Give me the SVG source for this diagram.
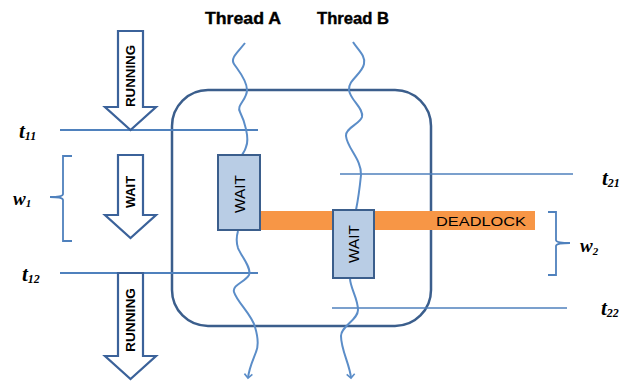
<svg xmlns="http://www.w3.org/2000/svg" width="638" height="381" viewBox="0 0 638 381">
<defs>
<style>
.lbl{font-family:"Liberation Sans",Arial,sans-serif;font-weight:bold;fill:#000}
.math{font-family:"Liberation Serif","Times New Roman",serif;font-weight:bold;font-style:italic;fill:#000}
.tline{stroke:#4F81BD;stroke-width:2;fill:none}
.thin{stroke:#4F81BD;stroke-width:1.3;fill:none}
.brace{stroke:#4F81BD;stroke-width:1.8;fill:none}
.arrow{fill:#fff;stroke:#3B629A;stroke-width:2.2}
.wave{stroke:#5B8DC8;stroke-width:2;fill:none}
.box{fill:#B9CDE5;stroke:#3B5E8C;stroke-width:2}
.vt{font-family:"Liberation Sans",Arial,sans-serif;font-weight:bold;font-size:12px;fill:#000}
.bt{font-family:"Liberation Sans",Arial,sans-serif;font-size:14px;fill:#000}
</style>
<marker id="ah" markerWidth="10" markerHeight="10" refX="5" refY="5" orient="auto" markerUnits="userSpaceOnUse">
<path d="M1,1 L5,5 L1,9" fill="none" stroke="#5B8DC8" stroke-width="1.6"/>
</marker>
</defs>
<rect width="638" height="381" fill="#fff"/>

<g id="region">
<rect x="172" y="90" width="259" height="236" rx="36" ry="36" fill="none" stroke="#3B5E8C" stroke-width="2.5"/>
</g>

<g id="deadlock">
<rect x="258" y="211" width="277" height="19" fill="#F79646"/>
<text x="436" y="226" font-family="Liberation Sans,Arial,sans-serif" font-size="13.5" fill="#000" textLength="90" lengthAdjust="spacingAndGlyphs">DEADLOCK</text>
</g>

<g id="time-lines">
<line class="tline" x1="60" y1="130" x2="258" y2="130"/>
<line class="tline" x1="60" y1="273" x2="258" y2="273"/>
<line class="thin" x1="340" y1="174" x2="573" y2="174"/>
<line class="thin" x1="332" y1="308" x2="567" y2="308"/>
</g>

<g id="connectors">
<path class="wave" d="M245,43 C238,52 230,58 234,64 C238,70 247,80 247,90 C247,100 236,105 240,112 C244,120 250,138 246,147 C245,151 243,153 242,155"/>
<path class="wave" marker-end="url(#ah)" d="M238,231 C236,238 236,242 238,248 C241,256 252,268 249,275 C245,282 232,285 234,292 C237,302 252,315 255,327 C258,337 259,345 256,352 C253,360 249,368 248,378"/>
<path class="wave" d="M353,42 C358,50 366,56 364,64 C362,74 348,80 349,90 C350,100 364,108 362,117 C360,124 345,128 346,136 C347,148 362,160 361,175 C360,185 358,200 356,210"/>
<path class="wave" marker-end="url(#ah)" d="M350,278 C350,288 358,298 358,310 C358,320 341,326 341,336 C341,350 350,365 351,378"/>
</g>

<g id="thread-a-label"><text class="lbl" x="205" y="24" font-size="17" textLength="76" lengthAdjust="spacingAndGlyphs" stroke="#000" stroke-width="0.4">Thread A</text></g>
<g id="thread-b-label"><text class="lbl" x="317" y="24" font-size="17" textLength="72" lengthAdjust="spacingAndGlyphs" stroke="#000" stroke-width="0.4">Thread B</text></g>

<g id="running-top">
<path class="arrow" d="M118,31 H143 V107 H156 L130.5,130 L105,107 H118 Z"/>
<text class="vt" transform="translate(135,76) rotate(-90)" text-anchor="middle" textLength="62" lengthAdjust="spacingAndGlyphs">RUNNING</text>
</g>
<g id="wait-arrow">
<path class="arrow" d="M118,155 H143 V215 H156 L130.5,238 L105,215 H118 Z"/>
<text class="vt" transform="translate(135,192) rotate(-90)" text-anchor="middle" textLength="32" lengthAdjust="spacingAndGlyphs">WAIT</text>
</g>
<g id="running-bottom">
<path class="arrow" d="M118,273 H143 V356 H156 L130.5,379 L105,356 H118 Z"/>
<text class="vt" transform="translate(135,320) rotate(-90)" text-anchor="middle" textLength="64" lengthAdjust="spacingAndGlyphs">RUNNING</text>
</g>

<g id="wait-a">
<rect class="box" x="218" y="155" width="42" height="75"/>
<text class="bt" transform="translate(245,194) rotate(-90)" text-anchor="middle" textLength="38" lengthAdjust="spacingAndGlyphs">WAIT</text>
</g>
<g id="wait-b">
<rect class="box" x="333" y="210" width="41" height="68"/>
<text class="bt" transform="translate(359,244) rotate(-90)" text-anchor="middle" textLength="38" lengthAdjust="spacingAndGlyphs">WAIT</text>
</g>

<g id="brace-w1">
<path class="brace" d="M72,156 H63 V194 Q63,197 50,197 Q63,197 63,200 V241 H72"/>
<text class="math" x="13" y="205" font-size="19">w<tspan font-size="11" dy="2">1</tspan></text>
</g>
<g id="brace-w2">
<path class="brace" d="M548,212 H556 V240 Q556,243 570,243 Q556,243 556,246 V275 H548"/>
<text class="math" x="580" y="252" font-size="19">w<tspan font-size="11" dy="3">2</tspan></text>
</g>

<g id="t-labels">
<text class="math" x="19" y="138" font-size="21">t<tspan font-size="12" dy="2">11</tspan></text>
<text class="math" x="22" y="281" font-size="21">t<tspan font-size="12" dy="2">12</tspan></text>
<text class="math" x="602" y="185" font-size="21">t<tspan font-size="12" dy="2">21</tspan></text>
<text class="math" x="601" y="315" font-size="21">t<tspan font-size="12" dy="2">22</tspan></text>
</g>
</svg>
